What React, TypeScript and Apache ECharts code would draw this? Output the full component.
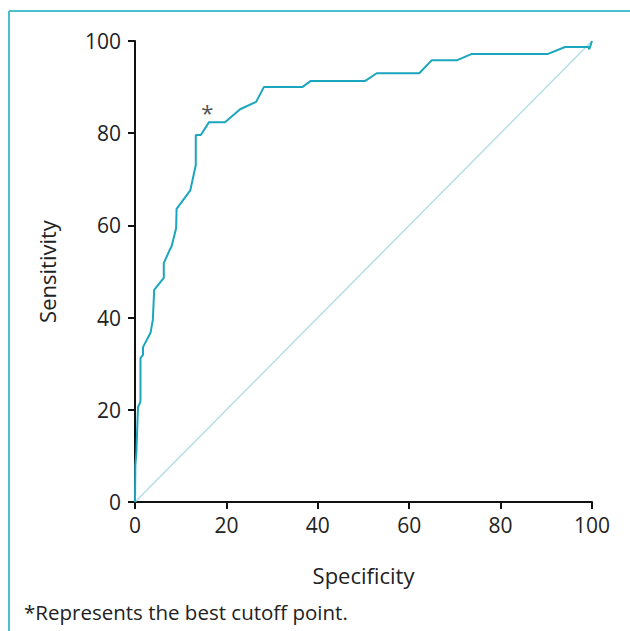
import React, { useEffect, useRef } from "react";
import * as echarts from "echarts";

const specificity = [0, 0.07, 0.3, 0.66, 1.1, 1.2, 1.2, 1.75, 1.75, 3.4, 3.9, 4.2, 6.3, 6.3, 7.6, 8.0, 9.0, 9.1, 12.1, 13.3, 13.3, 14.4, 16.2, 19.7, 23.0, 26.5, 28.2, 36.6, 38.4, 50.3, 52.9, 62.2, 64.9, 70.4, 73.7, 90.4, 94.1, 99.2, 99.4, 100];
const sensitivity = [0, 7.8, 10.8, 20.6, 21.5, 22.1, 31.2, 31.9, 33.6, 36.7, 39.5, 46, 48.6, 51.8, 54.7, 55.4, 59.4, 63.6, 67.6, 73.1, 79.6, 79.6, 82.4, 82.4, 85.2, 86.8, 90.0, 90.0, 91.3, 91.3, 93.0, 93.0, 95.8, 95.8, 97.2, 97.2, 98.7, 98.7, 98.2, 100];
const reference = [[0, 0], [100, 100]];
const bestCutoff = [15.8, 84.6];

export default function App() {
  const ref = useRef<HTMLDivElement>(null);
  useEffect(() => {
    const chart = echarts.init(ref.current!, null, { renderer: "svg" });
    const font = "Open Sans";
    const rocData = specificity.map((x, i) => [x, sensitivity[i]]);
    chart.setOption({
      animation: false,
      backgroundColor: "#ffffff",
      textStyle: { fontFamily: font },
      grid: { left: 135, right: 38, top: 41, bottom: 129 },
      xAxis: {
        type: "value",
        min: 0,
        max: 100,
        interval: 20,
        name: "Specificity",
        nameLocation: "middle",
        nameGap: 62,
        nameTextStyle: { fontSize: 22, color: "#222", fontFamily: font },
        axisLine: { show: true, onZero: false, lineStyle: { color: "#111", width: 2 } },
        axisTick: { show: true, length: 7, lineStyle: { color: "#111", width: 2 } },
        axisLabel: { fontSize: 21, color: "#222", margin: 12, fontFamily: font },
        splitLine: { show: false },
      },
      yAxis: {
        type: "value",
        min: 0,
        max: 100,
        interval: 20,
        name: "Sensitivity",
        nameLocation: "middle",
        nameGap: 77,
        nameTextStyle: { fontSize: 22, color: "#222", fontFamily: font },
        axisLine: { show: true, lineStyle: { color: "#111", width: 2 } },
        axisTick: { show: true, length: 7, lineStyle: { color: "#111", width: 2 } },
        axisLabel: { fontSize: 21, color: "#222", margin: 14, fontFamily: font },
        splitLine: { show: false },
      },
      series: [
        {
          type: "line",
          data: reference,
          symbol: "none",
          lineStyle: { color: "#b5dde6", width: 1.5 },
          silent: true,
        },
        {
          type: "line",
          data: rocData,
          symbol: "none",
          lineStyle: { color: "#1aa6bf", width: 2 },
          silent: true,
        },
        {
          type: "scatter",
          data: [bestCutoff],
          symbolSize: 0,
          label: {
            show: true,
            formatter: "*",
            position: "inside",
            fontSize: 22,
            color: "#222",
            fontFamily: font,
          },
        },
      ],
      graphic: [
        { type: "line", shape: { x1: 9, y1: 11, x2: 630, y2: 11 }, style: { stroke: "#4cbfcf", lineWidth: 2 } },
        { type: "line", shape: { x1: 9, y1: 11, x2: 9, y2: 631 }, style: { stroke: "#4cbfcf", lineWidth: 2 } },
        {
          type: "text",
          left: 24,
          top: 601,
          style: { text: "*Represents the best cutoff point.", fontSize: 20.5, fill: "#222", fontFamily: font },
        },
      ],
    });
    return () => chart.dispose();
  }, []);
  return (
    <div
      ref={ref}
      style={{ position: "fixed", left: 0, top: 0, width: 630, height: 631 }}
    />
  );
}
